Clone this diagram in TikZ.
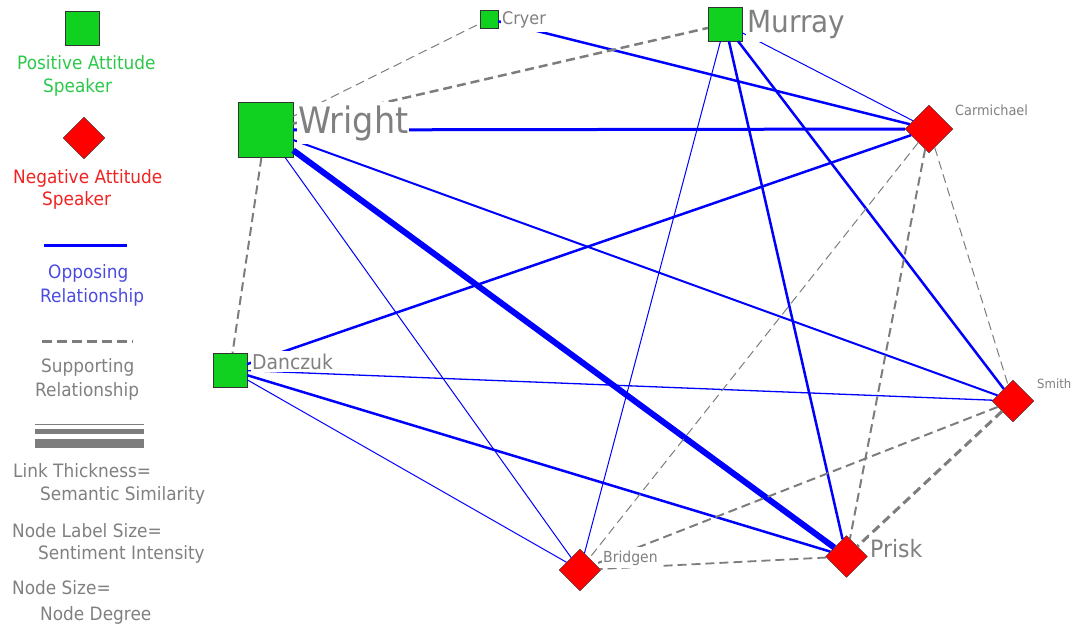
\documentclass[tikz,border=0pt]{standalone}
\usepackage{fontspec}
\setmainfont[FakeStretch=0.92]{DejaVu Sans}
\usetikzlibrary{shapes.geometric}

\definecolor{posgreen}{RGB}{16,208,32}
\definecolor{negred}{RGB}{255,0,0}
\definecolor{lblgray}{RGB}{128,128,128}
\definecolor{linkgray}{RGB}{125,125,125}
\definecolor{txtgreen}{RGB}{45,200,75}
\definecolor{txtred}{RGB}{240,35,35}
\definecolor{txtblue}{RGB}{75,75,225}

\tikzset{
  posnode/.style={rectangle, draw=black!80, fill=posgreen, inner sep=0pt, minimum size=#1},
  negnode/.style={diamond, aspect=1, draw=black!80, fill=negred, inner sep=0pt, minimum size=#1},
  opp/.style={draw=blue, line width=#1},
  supp/.style={draw=linkgray, line width=#1, dash pattern=on 9pt off 5pt},
  lbl/.style={text=lblgray, fill=white, inner xsep=1pt, inner ysep=0.3em, anchor=base west},
  legtext/.style={anchor=base west, inner sep=0pt, font=\fontsize{18.4}{22}\selectfont},
}

\begin{document}
\begin{tikzpicture}[x=1pt, y=-1pt]
        \useasboundingbox (0,0) rectangle (1075,626);
        % speakers
        \node [posnode=55pt] (wright) at (265.5,130) {};
        \node [posnode=18pt] (cryer) at (489,19) {};
        \node [posnode=34pt] (murray) at (725,24) {};
        \node [posnode=34pt] (danczuk) at (230,370) {};
        \node [negnode=48pt] (carmichael) at (929,129) {};
        \node [negnode=42pt] (smith) at (1013,401) {};
        \node [negnode=42pt] (prisk) at (846.5,556.5) {};
        \node [negnode=42pt] (bridgen) at (580,570) {};
        % opposing links
        \draw[opp=3] (wright) -- (carmichael);
        \draw[opp=2] (wright) -- (smith);
        \draw[opp=6] (wright) -- (prisk);
        \draw[opp=1] (wright) -- (bridgen);
        \draw[opp=2.5] (cryer) -- (carmichael);
        \draw[opp=1] (murray) -- (bridgen);
        \draw[opp=2.5] (murray) -- (prisk);
        \draw[opp=2.5] (murray) -- (smith);
        \draw[opp=1] (murray) -- (carmichael);
        \draw[opp=2.5] (carmichael) -- (danczuk);
        \draw[opp=1.3] (danczuk) -- (smith);
        \draw[opp=2.5] (danczuk) -- (prisk);
        \draw[opp=1] (danczuk) -- (bridgen);
        % supporting links
        \draw[supp=1] (wright) -- (cryer);
        \draw[supp=2.5] (wright) -- (murray);
        \draw[supp=2] (wright) -- (danczuk);
        \draw[supp=1] (carmichael) -- (bridgen);
        \draw[supp=2] (carmichael) -- (prisk);
        \draw[supp=1] (carmichael) -- (smith);
        \draw[supp=2] (smith) -- (bridgen);
        \draw[supp=3] (smith) -- (prisk);
        \draw[supp=1.8] (prisk) -- (bridgen);
        % names
        \node[lbl, font=\fontsize{36.4}{43}\selectfont] (wrightname) at (297,133) {Wright};
        \node[lbl, font=\fontsize{17.4}{21}\selectfont] (cryername) at (501,25) {Cryer};
        \node[lbl, font=\fontsize{30.4}{36}\selectfont] (murrayname) at (746,33) {Murray};
        \node[lbl, font=\fontsize{20.4}{24}\selectfont] (danczukname) at (251,369) {Danczuk};
        \node[lbl, font=\fontsize{14}{17}\selectfont] (carmichaelname) at (954,115) {Carmichael};
        \node[lbl, font=\fontsize{12.7}{15}\selectfont] (smithname) at (1036,388) {Smith};
        \node[lbl, font=\fontsize{23.9}{28}\selectfont] (priskname) at (869,557) {Prisk};
        \node[lbl, font=\fontsize{15.2}{18}\selectfont] (bridgenname) at (602,562) {Bridgen};
        % legend
        \node [posnode=34pt] (legpos) at (82.5,28) {};
        \node[legtext, text=txtgreen] (legpos1) at (17,70) {Positive Attitude};
        \node[legtext, text=txtgreen] (legpos2) at (43,92) {Speaker};
        \node [negnode=42pt] (legneg) at (84,138) {};
        \node[legtext, text=txtred] (legneg1) at (13,183) {Negative Attitude};
        \node[legtext, text=txtred] (legneg2) at (42,205) {Speaker};
        \coordinate (leg1a) at (44,245);
        \coordinate (leg1b) at (127,245);
        \draw[opp=3] (leg1a) -- (leg1b);
        \node[legtext, text=txtblue] (legopp1) at (48,278) {Opposing};
        \node[legtext, text=txtblue] (legopp2) at (40,302) {Relationship};
        \coordinate (leg2a) at (42,341);
        \coordinate (leg2b) at (133,341);
        \draw[supp=3, dash pattern=on 10pt off 5pt] (leg2a) -- (leg2b);
        \node[legtext, text=lblgray] (legsupp1) at (41,372) {Supporting};
        \node[legtext, text=lblgray] (legsupp2) at (35,396) {Relationship};
        \coordinate (leg3a) at (35,424.5);
        \coordinate (leg3b) at (144,424.5);
        \coordinate (leg4a) at (35,431.5);
        \coordinate (leg4b) at (144,431.5);
        \coordinate (leg5a) at (35,443);
        \coordinate (leg5b) at (144,443);
        \draw[linkgray, line width=1.5] (leg3a) -- (leg3b);
        \draw[linkgray, line width=5] (leg4a) -- (leg4b);
        \draw[linkgray, line width=9] (leg5a) -- (leg5b);
        \node[legtext, text=lblgray] (legthick1) at (13,477) {Link Thickness=};
        \node[legtext, text=lblgray] (legthick2) at (40,500) {Semantic Similarity};
        \node[legtext, text=lblgray] (leglabel1) at (12,537) {Node Label Size=};
        \node[legtext, text=lblgray] (leglabel2) at (38,559) {Sentiment Intensity};
        \node[legtext, text=lblgray] (legsize1) at (12,594) {Node Size=};
        \node[legtext, text=lblgray] (legsize2) at (40,620) {Node Degree};
\end{tikzpicture}
\end{document}
